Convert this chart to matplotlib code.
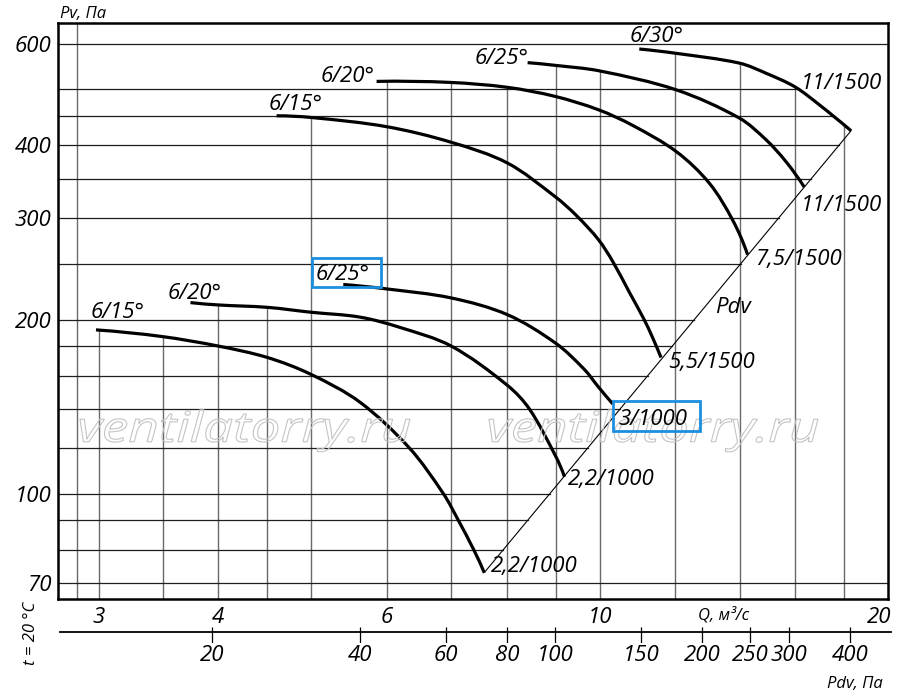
import numpy as np
import matplotlib
matplotlib.use("Agg")
import matplotlib.pyplot as plt
from matplotlib import transforms
from matplotlib import font_manager as fm
from matplotlib.ticker import NullLocator, NullFormatter
from matplotlib.patches import Rectangle, PathPatch
from matplotlib.path import Path
from matplotlib.textpath import TextPath

# pick a humanist family that really has an italic face
have = {(f.name, f.style) for f in fm.fontManager.ttflist}
fam = 'DejaVu Sans'
for name in ['Open Sans', 'Noto Sans', 'Lato', 'Roboto', 'Liberation Sans']:
    if (name, 'italic') in have:
        fam = name
        break
plt.rcParams['font.family'] = [fam, 'DejaVu Sans']
plt.rcParams['font.style'] = 'italic'

# --- curves, Q (m3/s) vs Pv (Pa) ---
# 1000 rpm
q_1000_15 = [2.98, 3.49, 4.0, 4.5, 4.99, 5.62, 6.33, 6.87, 7.12, 7.39, 7.58]
p_1000_15 = [192, 187, 180, 172, 161, 144, 120, 100, 90, 80, 73]
q_1000_20 = [3.74, 4.0, 4.5, 4.99, 5.62, 6.18, 7.0, 8.01, 8.45, 9.0, 9.19]
p_1000_20 = [214, 212, 210, 206, 202, 194, 180, 154, 140, 116, 107]
q_1000_25 = [5.40, 5.99, 7.0, 8.01, 9.0, 9.64, 9.97, 10.32]
p_1000_25 = [230, 226, 218, 204, 182, 164, 153, 143]
# 1500 rpm
q_1500_15 = [4.60, 5.0, 5.99, 7.0, 8.01, 8.99, 9.45, 9.97, 10.32, 10.74, 11.13, 11.36, 11.59]
p_1500_15 = [450, 447, 431, 405, 373, 326, 303, 275, 252, 223, 200, 186, 172]
q_1500_20 = [5.85, 6.97, 8.01, 8.99, 9.97, 10.83, 12.03, 13.02, 13.77, 14.27]
p_1500_20 = [516, 514, 504, 486, 461, 433, 390, 344, 297, 259]
q_1500_25 = [8.41, 8.99, 10.0, 12.02, 13.99, 14.92, 15.65, 16.35]
p_1500_25 = [556, 550, 538, 499, 446, 409, 375, 339]
q_1500_30 = [11.0, 12.02, 13.99, 14.92, 15.99, 16.96, 18.30]
p_1500_30 = [587, 577, 555, 533, 505, 470, 424]

# Pdv line (dynamic pressure)
pdv_q = [7.6, 18.3]
pdv_p = [73.5, 424]

ygrid = [70, 80, 90, 100, 120, 140, 160, 180, 200, 250, 300, 350, 400, 450, 500, 600]
xgrid = [2.85, 3, 3.5, 4, 4.5, 5, 6, 7, 8, 9, 10, 12, 14, 16, 18]
yticks = [70, 100, 200, 300, 400, 600]
qticks = [3, 4, 6, 10, 20]
pdv_ticks = [20, 40, 60, 80, 100, 150, 200, 250, 300, 400]

curves = [(q_1000_15, p_1000_15), (q_1000_20, p_1000_20), (q_1000_25, p_1000_25),
          (q_1500_15, p_1500_15), (q_1500_20, p_1500_20), (q_1500_25, p_1500_25),
          (q_1500_30, p_1500_30)]

W, H = 900, 696
def px(x, y):
    return x / W, 1 - y / H

# log decade length in px on each axis, so the spline is built in screen-like units
KX, KY = 958.5, 578.4

def smooth_path(qs, ps):
    # cubic hermite through the points, chord-length parameter, drawn as bezier
    pts = np.column_stack([np.log10(qs) * KX, np.log10(ps) * KY])
    n = len(pts)
    t = np.concatenate([[0], np.cumsum(np.hypot(*np.diff(pts, axis=0).T))])
    d = np.diff(pts, axis=0) / np.diff(t)[:, None]
    m = np.zeros_like(pts)
    for i in range(1, n - 1):
        m[i] = (pts[i + 1] - pts[i - 1]) / (t[i + 1] - t[i - 1])
    m[0] = 2 * d[0] - m[1]
    m[-1] = 2 * d[-1] - m[-2]
    verts = [pts[0]]
    codes = [Path.MOVETO]
    for i in range(n - 1):
        h = t[i + 1] - t[i]
        verts += [pts[i] + m[i] * h / 3, pts[i + 1] - m[i + 1] * h / 3, pts[i + 1]]
        codes += [Path.CURVE4] * 3
    v = np.array(verts)
    return Path(np.column_stack([10 ** (v[:, 0] / KX), 10 ** (v[:, 1] / KY)]), codes)

fig = plt.figure(figsize=(9, 6.96), dpi=100)
ax = fig.add_axes([58 / W, (H - 599) / H, 830 / W, 576 / H])
ax.set_xscale('log')
ax.set_yscale('log')
xmin, xmax = 2.72, 20.0
ymin, ymax = 65.8, 651
ax.set_xlim(xmin, xmax)
ax.set_ylim(ymin, ymax)

# vertical grid: from bottom up to the top curve
for q in xgrid:
    tops = []
    for qc, pc in curves:
        if qc[0] - 0.02 <= q <= qc[-1]:
            tops.append(10 ** np.interp(np.log10(q), np.log10(qc), np.log10(pc)))
    top = max(tops) if tops else ymax
    ax.plot([q, q], [ymin, top], color='#6a6a6a', lw=1.0, zorder=1)

# horizontal grid: from left up to the right boundary (6/30 curve + Pdv line)
for p in ygrid:
    if p > max(p_1500_30) or p < pdv_p[0]:
        end = xmax
    elif p >= pdv_p[1]:
        end = 10 ** np.interp(np.log10(p), np.log10(p_1500_30[::-1]), np.log10(q_1500_30[::-1]))
    else:
        end = 10 ** np.interp(np.log10(p), np.log10(pdv_p), np.log10(pdv_q))
    ax.plot([xmin, end], [p, p], color='#1e1e1e', lw=0.9, zorder=1)

for qc, pc in curves:
    ax.add_patch(PathPatch(smooth_path(qc, pc), fill=False, edgecolor='black',
                           lw=2.3, capstyle='butt', zorder=3))
ax.plot(pdv_q, pdv_p, color='black', lw=0.8, zorder=2)

for s in ax.spines.values():
    s.set_linewidth(1.8)
ax.xaxis.set_minor_locator(NullLocator())
ax.yaxis.set_minor_locator(NullLocator())
ax.xaxis.set_minor_formatter(NullFormatter())
ax.yaxis.set_minor_formatter(NullFormatter())
ax.set_yticks(yticks)
ax.set_yticklabels([str(v) for v in yticks], fontsize=16)
ax.set_xticks(qticks)
ax.set_xticklabels([str(v) for v in qticks], fontsize=16)
ax.tick_params(which='both', length=0)
ax.tick_params(axis='y', pad=4.5)
ax.tick_params(axis='x', pad=6)
lab20 = ax.get_xticklabels()[-1]
lab20.set_transform(lab20.get_transform() + transforms.ScaledTranslation(-9 / 100, 0, fig.dpi_scale_trans))

# Pdv scale under the chart
ax2 = fig.add_axes([58 / W, (H - 643) / H, 830 / W, 16 / H])
ax2.set_xscale('log')
ax2.set_xlim(9.68, 478.4)
ax2.set_ylim(0, 1)
for s in ax2.spines.values():
    s.set_visible(False)
ax2.patch.set_alpha(0)
ax2.axhline(0.6875, xmin=2 / 830, xmax=833 / 830, color='black', lw=1.3, clip_on=False)
ax2.vlines(pdv_ticks, 0, 1, color='black', lw=0.9)
ax2.xaxis.set_minor_locator(NullLocator())
ax2.xaxis.set_minor_formatter(NullFormatter())
ax2.set_xticks(pdv_ticks)
ax2.set_xticklabels([str(v) for v in pdv_ticks], fontsize=16)
ax2.set_yticks([])
ax2.tick_params(which='both', length=0, pad=1.5)

# axis captions
fig.text(*px(60, 18), 'Pv, Па', fontsize=12, ha='left', va='baseline')
fig.text(*px(698, 620), 'Q, м³/с', fontsize=12, ha='left', va='baseline')
fig.text(*px(827, 688), 'Pdv, Па', fontsize=12, ha='left', va='baseline')
fig.text(*px(31, 633), 't = 20 °C', fontsize=12, ha='center', va='center', rotation=90)

# curve labels
labels = [
    ('6/15°', 91, 318), ('6/20°', 168, 299), ('6/25°', 316, 280),
    ('6/15°', 269, 110), ('6/20°', 321, 82), ('6/25°', 475, 64), ('6/30°', 630, 42),
    ('11/1500', 801, 89), ('11/1500', 801, 211), ('7,5/1500', 755, 265),
    ('Pdv', 715, 313), ('5,5/1500', 668, 368), ('3/1000', 619, 425),
    ('2,2/1000', 568, 485), ('2,2/1000', 491, 572),
]
for txt, x, y in labels:
    fig.text(*px(x, y), txt, fontsize=16, ha='left', va='baseline', zorder=6)

# highlight boxes
for x0, y0, x1, y1 in [(311.7, 257.7, 381, 286.7), (613.3, 400.7, 700, 430.7)]:
    fig.patches.append(Rectangle(px(x0, y1), (x1 - x0) / W, (y1 - y0) / H,
                                 transform=fig.transFigure, fill=False,
                                 edgecolor='#1b8fe0', lw=2.0, zorder=5))

# watermark: outlined, wide lettering
wm = TextPath((0, 0), 'ventilatorry.ru', size=100,
              prop=fm.FontProperties(family=fam, style='italic'))
ext = wm.get_extents()
for left, right in [(80, 410), (489, 818)]:
    tr = (transforms.Affine2D().translate(-ext.x0, 0)
          .scale((right - left) / ext.width, 0.42).translate(left, H - 441.7))
    fig.patches.append(PathPatch(wm, transform=tr, fill=False, edgecolor='#c4c4c4',
                                 lw=0.8, zorder=4))

fig.savefig('out.png', dpi=100)
